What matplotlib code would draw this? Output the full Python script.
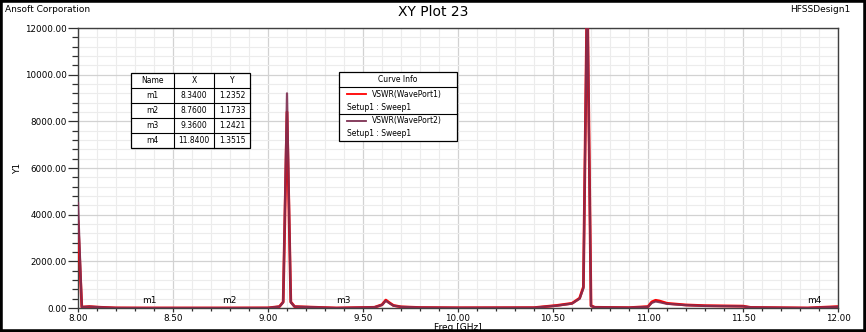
import matplotlib
matplotlib.use("Agg")
import matplotlib.pyplot as plt
from matplotlib.patches import Rectangle
from matplotlib.lines import Line2D
from matplotlib.ticker import MultipleLocator, FormatStrFormatter

# ---- data (freq in GHz, VSWR) ----
freq1 = [8.00, 8.02, 8.06, 8.12, 8.20, 8.34, 8.76, 9.00, 9.06, 9.08, 9.10, 9.12, 9.14,
         9.36, 9.56, 9.60, 9.62, 9.64, 9.66, 9.70, 9.80, 10.00, 10.40, 10.52, 10.60,
         10.64, 10.66, 10.68, 10.70, 10.72, 10.90, 11.00, 11.02, 11.04, 11.06, 11.10,
         11.20, 11.30, 11.50, 11.54, 11.84, 12.00]
vswr1 = [3700, 40, 60, 30, 5, 1.24, 1.17, 5, 60, 260, 8400, 260, 60,
         1.24, 30, 140, 340, 220, 110, 50, 20, 10, 15, 110, 200,
         420, 900, 14000, 100, 30, 15, 60, 260, 330, 300, 200,
         130, 100, 80, 25, 1.35, 60]

freq2 = freq1
vswr2 = [4500, 40, 60, 30, 5, 1.24, 1.17, 5, 60, 240, 9200, 240, 60,
         1.24, 30, 130, 310, 200, 100, 50, 20, 10, 15, 100, 190,
         400, 850, 14000, 90, 30, 15, 50, 220, 280, 250, 180,
         120, 90, 70, 25, 1.35, 50]

marker_names = ["m1", "m2", "m3", "m4"]
marker_x = [8.34, 8.76, 9.36, 11.84]
marker_y = [1.2352, 1.1733, 1.2421, 1.3515]

curve_names = ["VSWR(WavePort1)", "VSWR(WavePort2)"]
curve_colors = ["#ff0000", "#7d2f52"]

W, H = 866, 332
fig = plt.figure(figsize=(W / 100, H / 100), dpi=100)
ax = fig.add_axes([78 / W, 1 - 308 / H, 760 / W, 280 / H])


def px(x, y):
    """pixel position (top-left origin) -> figure fraction"""
    return x / W, 1 - y / H


ax.plot(freq1, vswr1, color=curve_colors[0], lw=2.0, zorder=3, solid_joinstyle="round")
ax.plot(freq2, vswr2, color=curve_colors[1], lw=1.6, alpha=0.9, zorder=4,
        solid_joinstyle="round")

ax.set_xlim(8.0, 12.0)
ax.set_ylim(0, 12000)
ax.xaxis.set_major_locator(MultipleLocator(0.5))
ax.xaxis.set_minor_locator(MultipleLocator(0.1))
ax.yaxis.set_major_locator(MultipleLocator(2000))
ax.yaxis.set_minor_locator(MultipleLocator(400))
ax.xaxis.set_major_formatter(FormatStrFormatter("%.2f"))
ax.yaxis.set_major_formatter(FormatStrFormatter("%.2f"))

ax.grid(which="minor", color="#ececec", lw=0.8, zorder=0)
ax.grid(which="major", color="#d2d2d2", lw=0.9, zorder=0)
ax.set_axisbelow(True)

ax.tick_params(axis="y", which="major", direction="out", length=7, width=0.9,
               labelsize=6.3, pad=1, color="#303030")
ax.tick_params(axis="y", which="minor", direction="out", length=4, width=0.9, color="#303030")
ax.tick_params(axis="x", which="major", direction="out", length=3, width=0.9,
               labelsize=6.3, pad=1, color="#303030")
ax.tick_params(axis="x", which="minor", direction="out", length=2.5, width=0.9, color="#303030")
for s in ax.spines.values():
    s.set_color("#404040")
    s.set_linewidth(1.0)

ax.set_xlabel("Freq [GHz]", fontsize=6.5, labelpad=0)
ax.set_ylabel("Y1", fontsize=6.5, labelpad=2)

# marker labels on the curve
for name, mx, my in zip(marker_names, marker_x, marker_y):
    ax.text(mx, my + 120, name, fontsize=6.5, ha="left", va="bottom", zorder=5)

# header texts
fig.text(*px(5, 9), "Ansoft Corporation", fontsize=6.5, ha="left", va="center")
fig.text(*px(433, 12), "XY Plot 23", fontsize=10, ha="center", va="center")
fig.text(*px(850, 9), "HFSSDesign1", fontsize=6.5, ha="right", va="center")

# ---- marker table ----
col_edges = [131, 174, 214, 250]
row_h = 15
top = 73
rows = [["Name", "X", "Y"]] + [[n, "%.4f" % x, "%.4f" % y]
                               for n, x, y in zip(marker_names, marker_x, marker_y)]
x0, y0 = px(col_edges[0], top + row_h * len(rows))
x1, y1 = px(col_edges[-1], top)
fig.patches.append(Rectangle((x0, y0), x1 - x0, y1 - y0, transform=fig.transFigure,
                             fc="white", ec="black", lw=0.9, zorder=10))
for i, row in enumerate(rows):
    yc = top + row_h * i + row_h / 2
    if i > 0:
        fig.lines.append(Line2D([x0, x1], [px(0, top + row_h * i)[1]] * 2,
                                transform=fig.transFigure, color="black", lw=0.8, zorder=11))
    for j, cell in enumerate(row):
        xc = (col_edges[j] + col_edges[j + 1]) / 2
        fig.text(*px(xc, yc), cell, fontsize=5.5, ha="center", va="center", zorder=12)
for ce in col_edges[1:-1]:
    fig.lines.append(Line2D([px(ce, 0)[0]] * 2, [y0, y1], transform=fig.transFigure,
                            color="black", lw=0.8, zorder=11))

# ---- curve info box ----
bx0, by0 = px(339, 141)
bx1, by1 = px(457, 72)
fig.patches.append(Rectangle((bx0, by0), bx1 - bx0, by1 - by0, transform=fig.transFigure,
                             fc="white", ec="black", lw=0.9, zorder=10))
fig.text(*px(398, 80), "Curve Info", fontsize=5.5, ha="center", va="center", zorder=12)
for k, (name, col) in enumerate(zip(curve_names, curve_colors)):
    ytop = 87 + 27 * k
    fig.lines.append(Line2D([bx0, bx1], [px(0, ytop)[1]] * 2, transform=fig.transFigure,
                            color="black", lw=0.8, zorder=11))
    fig.lines.append(Line2D([px(347, 0)[0], px(366, 0)[0]], [px(0, ytop + 7)[1]] * 2,
                            transform=fig.transFigure, color=col, lw=1.3, zorder=11))
    fig.text(*px(372, ytop + 7), name, fontsize=5.5, ha="left", va="center", zorder=12)
    fig.text(*px(347, ytop + 20), "Setup1 : Sweep1", fontsize=5.5, ha="left",
             va="center", zorder=12)

# outer frame
fig.patches.append(Rectangle((0, 0), 1, 1, transform=fig.transFigure, fill=False,
                             ec="black", lw=4, zorder=20))

fig.savefig("out.png", dpi=100)
